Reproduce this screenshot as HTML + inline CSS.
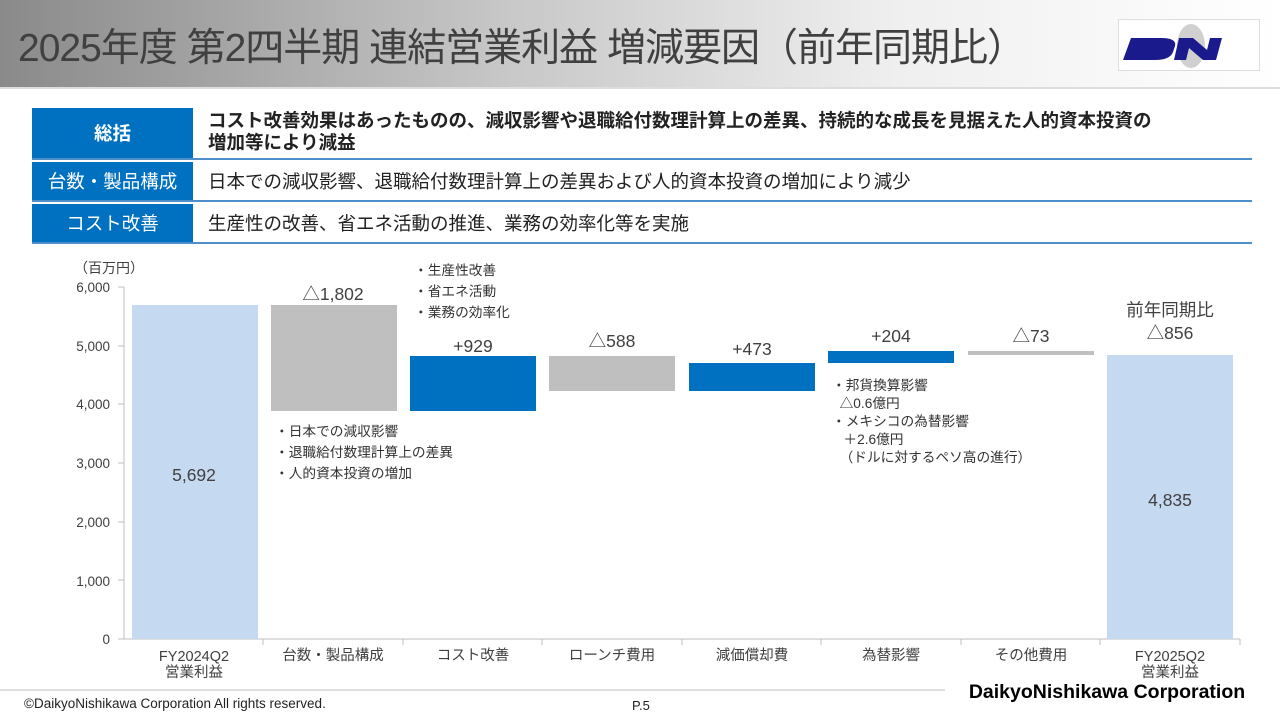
<!DOCTYPE html>
<html><head><meta charset="utf-8"><style>
body{margin:0;width:1280px;height:720px;position:relative;background:#fff;font-family:"Liberation Sans","Noto Sans CJK JP",sans-serif;overflow:hidden}
.hdr{position:absolute;left:0;top:0;width:1280px;height:87px;background:linear-gradient(90deg,#8a8a8a 0%,#c8c8c8 40%,#efefef 70%,#fff 100%);border-bottom:2px solid #ddd}
.title{position:absolute;left:18px;top:17px;font-size:39px;color:#404040;white-space:nowrap;letter-spacing:-1px}
.logo{position:absolute;left:1118px;top:19px;width:140px;height:50px;background:#fff;border:1px solid #ddd}
.row{position:absolute;left:32px;width:1220px;border-bottom:2px solid #4f8fc9}
.lab{position:absolute;left:0;top:0;bottom:0;width:161px;background:#0070c0;color:#fff;font-size:18.5px;display:flex;align-items:center;justify-content:center}
.txt{position:absolute;left:176px;font-size:18.5px;color:#222;line-height:22px;white-space:nowrap}
.t{position:absolute;font-size:15px;color:#404040;white-space:nowrap}
.s{position:absolute;font-size:13.7px;color:#333;white-space:nowrap;line-height:21px}
</style></head><body>
<div class="hdr"></div>
<div class="title">2025年度 第2四半期 連結営業利益 増減要因（前年同期比）</div>
<div class="logo"><svg width="140" height="50"><ellipse cx="72" cy="26" rx="14" ry="22" fill="#d0d0d0"/><path d="M12 18h30q16 0 14 8l-2 6q-3 8-18 8H4z M60 18h14l14 12 3-12h12l-6 22H84L70 28l-3 12H55z" fill="#1a1a8c"/></svg></div>

<div class="row" style="top:108px;height:50px"><div class="lab" style="font-weight:bold">総括</div><div class="txt" style="top:2px;font-weight:bold">コスト改善効果はあったものの、減収影響や退職給付数理計算上の差異、持続的な成長を見据えた人的資本投資の<br>増加等により減益</div></div>
<div class="row" style="top:162px;height:38px"><div class="lab">台数・製品構成</div><div class="txt" style="top:9px">日本での減収影響、退職給付数理計算上の差異および人的資本投資の増加により減少</div></div>
<div class="row" style="top:204px;height:38px"><div class="lab">コスト改善</div><div class="txt" style="top:9px">生産性の改善、省エネ活動の推進、業務の効率化等を実施</div></div>

<svg style="position:absolute;left:0;top:0" width="1280" height="720">
<g font-family="Liberation Sans" font-size="13.5" fill="#404040" text-anchor="end">
<text x="110" y="292">6,000</text><text x="110" y="351">5,000</text><text x="110" y="409">4,000</text><text x="110" y="468">3,000</text><text x="110" y="527">2,000</text><text x="110" y="586">1,000</text><text x="110" y="644">0</text>
</g>
<line x1="124" y1="287" x2="124" y2="639" stroke="#bfbfbf"/>
<line x1="124" y1="639" x2="1240" y2="639" stroke="#bfbfbf"/>
<g stroke="#bfbfbf"><line x1="118" y1="287" x2="124" y2="287"/><line x1="118" y1="346" x2="124" y2="346"/><line x1="118" y1="404" x2="124" y2="404"/><line x1="118" y1="463" x2="124" y2="463"/><line x1="118" y1="522" x2="124" y2="522"/><line x1="118" y1="580" x2="124" y2="580"/><line x1="118" y1="639" x2="124" y2="639"/>
<line x1="263" y1="639" x2="263" y2="645"/><line x1="403" y1="639" x2="403" y2="645"/><line x1="542" y1="639" x2="542" y2="645"/><line x1="682" y1="639" x2="682" y2="645"/><line x1="821" y1="639" x2="821" y2="645"/><line x1="961" y1="639" x2="961" y2="645"/><line x1="1100" y1="639" x2="1100" y2="645"/><line x1="1240" y1="639" x2="1240" y2="645"/></g>
<rect x="132" y="305" width="126" height="334" fill="#c5d9f1"/>
<rect x="271" y="305" width="126" height="106" fill="#bfbfbf"/>
<rect x="410" y="356" width="126" height="55" fill="#0070c0"/>
<rect x="549" y="356" width="126" height="35" fill="#bfbfbf"/>
<rect x="689" y="363" width="126" height="28" fill="#0070c0"/>
<rect x="828" y="351" width="126" height="12" fill="#0070c0"/>
<rect x="968" y="351" width="126" height="4" fill="#bfbfbf"/>
<rect x="1107" y="355" width="126" height="284" fill="#c5d9f1"/>
<g font-family="Liberation Sans,Noto Sans CJK JP,sans-serif" font-size="17.5" fill="#404040" text-anchor="middle">
<text x="194" y="481">5,692</text><text x="1170" y="506">4,835</text>
<text x="333" y="300">△1,802</text><text x="473" y="352">+929</text><text x="612" y="347">△588</text><text x="752" y="355">+473</text><text x="891" y="342">+204</text><text x="1031" y="342">△73</text>
<text x="1170" y="316">前年同期比</text><text x="1170" y="339">△856</text>
</g>
<g font-family="Liberation Sans,Noto Sans CJK JP,sans-serif" font-size="14.5" fill="#404040" text-anchor="middle">
<text x="194" y="661">FY2024Q2</text><text x="194" y="677">営業利益</text>
<text x="333" y="660">台数・製品構成</text><text x="473" y="660">コスト改善</text><text x="612" y="660">ローンチ費用</text><text x="752" y="660">減価償却費</text><text x="891" y="660">為替影響</text><text x="1031" y="660">その他費用</text>
<text x="1170" y="661">FY2025Q2</text><text x="1170" y="677">営業利益</text>
</g>
<line x1="0" y1="690" x2="945" y2="690" stroke="#bfbfbf"/>
</svg>
<div class="t" style="left:74px;top:258px;font-size:14px">（百万円）</div>
<div class="s" style="left:414px;top:260px">・生産性改善<br>・省エネ活動<br>・業務の効率化</div>
<div class="s" style="left:275px;top:421px">・日本での減収影響<br>・退職給付数理計算上の差異<br>・人的資本投資の増加</div>
<div class="s" style="left:832px;top:377px;line-height:18px">・邦貨換算影響<br>&nbsp;&nbsp;△0.6億円<br>・メキシコの為替影響<br>&nbsp;&nbsp;&nbsp;＋2.6億円<br>&nbsp;&nbsp;（ドルに対するペソ高の進行）</div>
<div class="t" style="left:24px;top:696px;font-size:13.5px;color:#222">©DaikyoNishikawa Corporation All rights reserved.</div>
<div class="t" style="left:632px;top:698px;font-size:13px;color:#222">P.5</div>
<div style="position:absolute;left:948px;top:679px;width:318px;height:26px;background:#fff;font-weight:bold;font-size:19.5px;color:#000;text-align:center;line-height:26px">DaikyoNishikawa Corporation</div>
</body></html>
